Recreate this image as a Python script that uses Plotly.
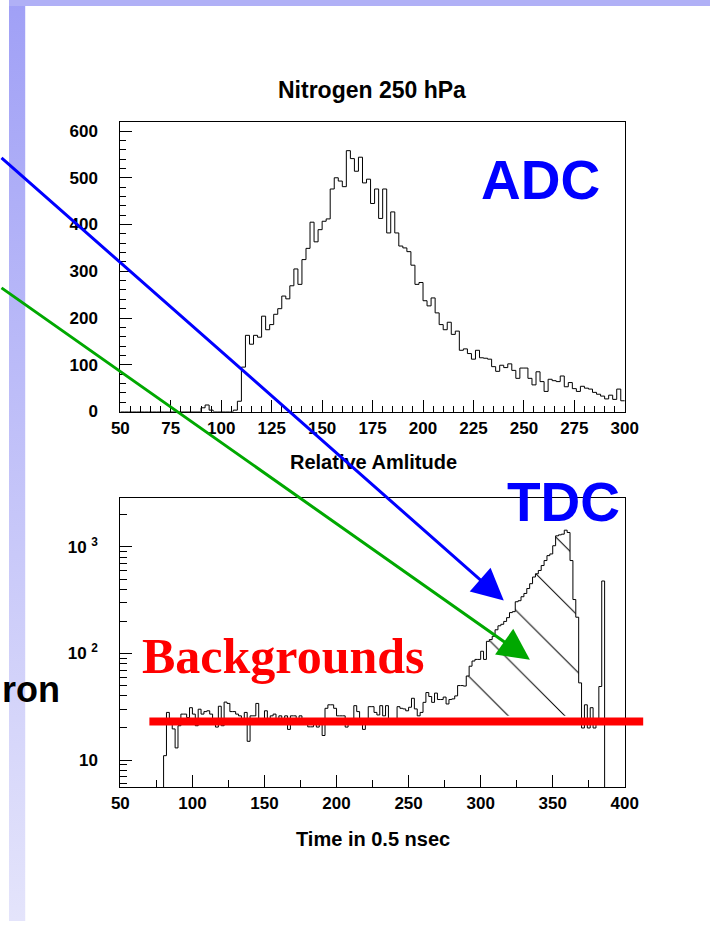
import base64
import numpy as np
import plotly.graph_objects as go

W, H = 724, 931

# ---- ADC spectrum (2-unit bins starting at 50) ----
adc_lo, adc_w = 50, 2
adc_counts = (
    [0] * 20 + [8, 14, 3] + [0] * 5 +
    [3, 22, 95, 163, 144, 163, 159, 204, 175, 186, 208, 220, 247, 241, 269, 305,
     272, 325, 349, 405, 363, 389, 407, 412, 476, 500, 493, 481, 558, 541, 514,
     544, 489, 497, 445, 476, 413, 476, 382, 427, 382, 354, 350, 342, 313, 272,
     276, 237, 226, 243, 211, 186, 175, 191, 165, 172, 131, 134, 124, 112, 131,
     115, 114, 112, 96, 86, 99, 94, 102, 88, 71, 93, 93, 71, 57, 85, 64, 43, 69,
     66, 64, 76, 53, 62, 49, 43, 54, 50, 48, 41, 37, 33, 27, 35, 26, 48, 23]
)

# ---- TDC spectrum (2-unit bins starting at 78) ----
tdc_lo, tdc_w = 78, 2
tdc_counts = [
    1, 11, 28, 23, 19.6, 13, 21, 27, 27, 25, 31, 27, 21, 30, 27, 28.5, 29, 27, 23,
    20.4, 32, 21, 35, 34, 28.5, 28.5, 27, 26, 23, 28, 15, 26, 26, 34, 23, 23, 29,
    24, 26, 27, 24, 26, 23, 26, 19.4, 26, 26, 23, 26, 23, 23, 20.5, 20.5, 22, 20.4,
    23, 17, 30.6, 33, 33, 30.6, 26, 26, 26, 20.4, 23, 23, 32.4, 28.5, 23, 19.4, 23,
    31.7, 31.7, 28, 26.5, 32.4, 26, 32.4, 23, 23, 23, 31.7, 30.6, 30.2, 29, 31.3,
    38, 30.2, 26, 28, 34.8, 43, 39.5, 34.8, 42.5, 37, 37, 39, 33.6, 37, 37.5, 40,
    50, 50, 49.5, 61.5, 76, 85, 88, 88, 105, 88, 130, 135, 145, 167, 182, 188,
    200, 217, 242, 247, 306, 313, 341, 366, 407, 452, 522, 560, 601, 669, 745,
    829, 859, 1026, 1271, 1298, 1318, 1436, 1366, 745, 321, 219, 53, 20, 33, 20,
    31, 20, 22, 49, 479, 1,
]
tdc_hi = 400

# signal window hatched above the flat background level
sig_lo, sig_hi, sig_base = 286, 368, 26
bkg_level = 23

adc_title = "Relative Amlitude"
tdc_title = "Time in 0.5 nsec"
plot_title = "Nitrogen 250 hPa"


def step_xy(lo, w, counts, hi=None):
    edges = lo + w * np.arange(len(counts) + 1)
    if hi is not None:
        edges[-1] = hi
    y = list(counts) + [counts[-1]]
    return edges, y


def px(x):
    return x / W


def py(y):
    return 1 - y / H


fig = go.Figure()

ax_, ay_ = step_xy(adc_lo, adc_w, adc_counts)
fig.add_trace(go.Scatter(x=ax_, y=ay_, mode="lines", line=dict(shape="hv", color="black", width=1),
                         xaxis="x", yaxis="y", showlegend=False, hoverinfo="skip"))

# hatched signal region
tc = np.array(tdc_counts, dtype=float)
left = tdc_lo + tdc_w * np.arange(len(tc))
sel = (left >= sig_lo) & (left + tdc_w <= sig_hi)
hx, hy = [sig_lo], [sig_base]
for l, c in zip(left[sel], tc[sel]):
    hx += [l, l + tdc_w]
    hy += [c, c]
hx += [sig_hi, sig_lo]
hy += [sig_base, sig_base]
fig.add_trace(go.Scatter(x=hx, y=hy, mode="lines", line=dict(width=0), fill="toself",
                         fillcolor="black",
                         fillpattern=dict(shape="\\", fillmode="replace", size=40, solidity=0.025),
                         xaxis="x2", yaxis="y2", showlegend=False, hoverinfo="skip"))

tx_, ty_ = step_xy(tdc_lo, tdc_w, tdc_counts, hi=tdc_hi)
fig.add_trace(go.Scatter(x=tx_, y=ty_, mode="lines", line=dict(shape="hv", color="black", width=1),
                         xaxis="x2", yaxis="y2", showlegend=False, hoverinfo="skip"))

tick_font = dict(family="Liberation Sans, Arial, sans-serif", size=17, color="black", weight="bold")
frame = dict(showline=True, mirror=True, linecolor="black", linewidth=1, showgrid=False,
             zeroline=False, ticks="inside", tickcolor="black", tickwidth=1, tickfont=tick_font)

fig.update_layout(
    width=W, height=H, margin=dict(l=0, r=0, t=0, b=0),
    paper_bgcolor="white", plot_bgcolor="white",
    xaxis=dict(domain=[px(115), px(636)], range=[50, 300], anchor="y", tick0=50, dtick=25,
               ticklen=12, ticklabelstandoff=1,
               minor=dict(ticks="inside", ticklen=6, dtick=5, tickcolor="black"), **frame),
    yaxis=dict(domain=[py(416), py(123)], range=[0, 620], anchor="x", tick0=0, dtick=100,
               ticklen=12, ticklabelstandoff=18,
               minor=dict(ticks="inside", ticklen=6, dtick=20, tickcolor="black"), **frame),
    xaxis2=dict(domain=[px(115), px(636)], range=[50, 400], anchor="y2", tick0=50, dtick=50,
                ticklen=12, ticklabelstandoff=0,
                minor=dict(ticks="inside", ticklen=7, dtick=25, tickcolor="black"), **frame),
    yaxis2=dict(domain=[py(796), py(503)], type="log", range=[0.743, 3.463], anchor="x2",
                tickmode="array", tickvals=[10, 100, 1000],
                ticktext=["10", "10\u00a0<sup>2</sup>", "10\u00a0<sup>3</sup>"],
                ticklen=12, ticklabelstandoff=18,
                minor=dict(ticks="inside", ticklen=7, tickcolor="black", tickmode="array",
                           tickvals=[v * d for d in (1, 10, 100) for v in range(2, 10)] + [2000]),
                **frame),
)

# slide decoration: left gradient strip (SVG gradient image) and top band
strip_svg = (
    "<svg xmlns='http://www.w3.org/2000/svg' width='17' height='931' preserveAspectRatio='none'>"
    "<defs><linearGradient id='g' x1='0' y1='0' x2='0' y2='1'>"
    "<stop offset='0' stop-color='rgb(160,160,246)'/>"
    "<stop offset='1' stop-color='rgb(228,228,251)'/>"
    "</linearGradient></defs><rect width='17' height='931' fill='url(#g)'/></svg>"
)
strip_uri = "data:image/svg+xml;base64," + base64.b64encode(strip_svg.encode()).decode()
fig.add_layout_image(dict(source=strip_uri, xref="paper", yref="paper", x=0, y=1,
                          sizex=px(17), sizey=1, xanchor="left", yanchor="top",
                          sizing="stretch", layer="below"))

shapes = [
    dict(type="rect", xref="paper", yref="paper", x0=0, x1=1, y0=py(6), y1=1,
         line=dict(width=0), fillcolor="rgb(176,176,246)", layer="below"),
    # flat background level
    dict(type="line", xref="paper", yref="y2", x0=px(145), x1=px(655),
         y0=bkg_level, y1=bkg_level, line=dict(color="#ff0000", width=8), layer="above"),
]
fig.update_layout(shapes=shapes)

sans = "Liberation Sans, Arial, sans-serif"
ann = [
    dict(text=plot_title, x=px(375), y=py(91), font=dict(family=sans, size=23, color="black", weight="bold")),
    dict(text=adc_title, x=px(376), y=py(467), font=dict(family=sans, size=20, color="black", weight="bold")),
    dict(text=tdc_title, x=px(376), y=py(848), font=dict(family=sans, size=20, color="black", weight="bold")),
    dict(text="ADC", x=px(549), y=py(182), font=dict(family=sans, size=55, color="#0000ff", weight="bold")),
    dict(text="TDC", x=px(573), y=py(507), font=dict(family=sans, size=55, color="#0000ff", weight="bold")),
    dict(text="Backgrounds", x=px(284), y=py(663),
         font=dict(family="Liberation Serif, Times New Roman, serif", size=50, color="#ff0000", weight="bold")),
    dict(text="ron", x=px(55), y=py(697), xanchor="right",
         font=dict(family=sans, size=36, color="black", weight="bold")),
]
for a in ann:
    a.update(xref="paper", yref="paper", showarrow=False)
    a.setdefault("xanchor", "center")
    a.setdefault("yanchor", "middle")

# pointer arrows toward the TDC peak
for tip, tail, col in [((511, 607), (0, 163), "#0000ff"), ((538, 667), (0, 294), "#00a800")]:
    ann.append(dict(text="", x=px(tip[0]), y=py(tip[1]), xref="paper", yref="paper",
                    ax=tail[0] - tip[0], ay=tail[1] - tip[1], showarrow=True, arrowhead=2,
                    arrowsize=2.1, arrowwidth=3, arrowcolor=col, standoff=0, startstandoff=0))
fig.update_layout(annotations=ann)

fig.write_html("out.html")
